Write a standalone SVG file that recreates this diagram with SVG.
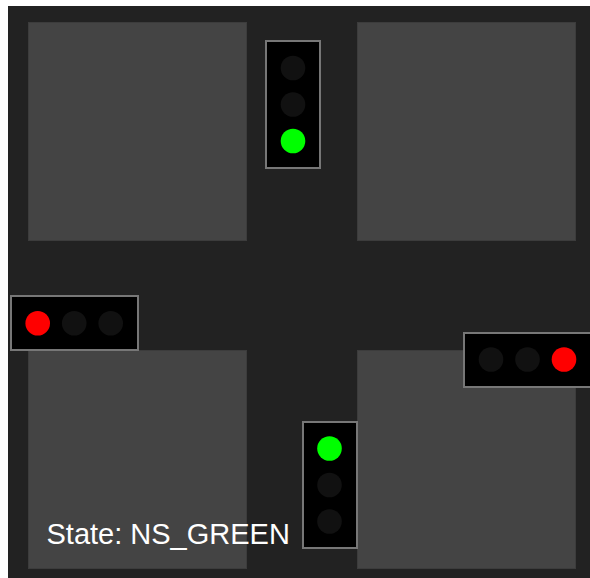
<svg xmlns="http://www.w3.org/2000/svg" width="590" height="578" viewBox="0 0 590 578">
<style>
.block{fill:#444444;stroke:#3c3c3c;stroke-width:1}
.box{fill:#000000;stroke:#777777;stroke-width:2}
.off{fill:#111111}
.red{fill:#ff0000}
.green{fill:#00ff00}
.label{font-family:"Liberation Sans",Arial,sans-serif;font-size:29px;fill:#ffffff}
</style>
<rect x="0" y="0" width="590" height="578" fill="#ffffff"/>
<rect x="8" y="6" width="582" height="572" fill="#222222"/>
<g id="blocks">
<rect id="block-nw" class="block" x="28.5" y="22.5" width="218" height="218"/>
<rect id="block-ne" class="block" x="357.5" y="22.5" width="218" height="218"/>
<rect id="block-sw" class="block" x="28.5" y="350.5" width="218" height="218"/>
<rect id="block-se" class="block" x="357.5" y="350.5" width="218" height="218"/>
</g>
<g id="light-north">
<rect class="box" x="266" y="41" width="54" height="127"/>
<circle class="off" cx="293" cy="68" r="12.3"/>
<circle class="off" cx="293" cy="104.5" r="12.3"/>
<circle class="green" cx="293" cy="141" r="12.3"/>
</g>
<g id="light-west">
<rect class="box" x="11" y="296" width="127" height="54"/>
<circle class="red" cx="37.7" cy="323.3" r="12.3"/>
<circle class="off" cx="74.2" cy="323.3" r="12.3"/>
<circle class="off" cx="110.7" cy="323.3" r="12.3"/>
</g>
<g id="light-east">
<rect class="box" x="464" y="333" width="127" height="54"/>
<circle class="off" cx="491" cy="359.5" r="12.3"/>
<circle class="off" cx="527.5" cy="359.5" r="12.3"/>
<circle class="red" cx="564" cy="359.5" r="12.3"/>
</g>
<g id="light-south">
<rect class="box" x="303" y="422" width="54" height="126"/>
<circle class="green" cx="329.5" cy="448.5" r="12.3"/>
<circle class="off" cx="329.5" cy="485" r="12.3"/>
<circle class="off" cx="329.5" cy="521.5" r="12.3"/>
</g>
<g id="connectors"></g>
<text id="state" class="label" x="46.5" y="544">State: NS_GREEN</text>
</svg>
